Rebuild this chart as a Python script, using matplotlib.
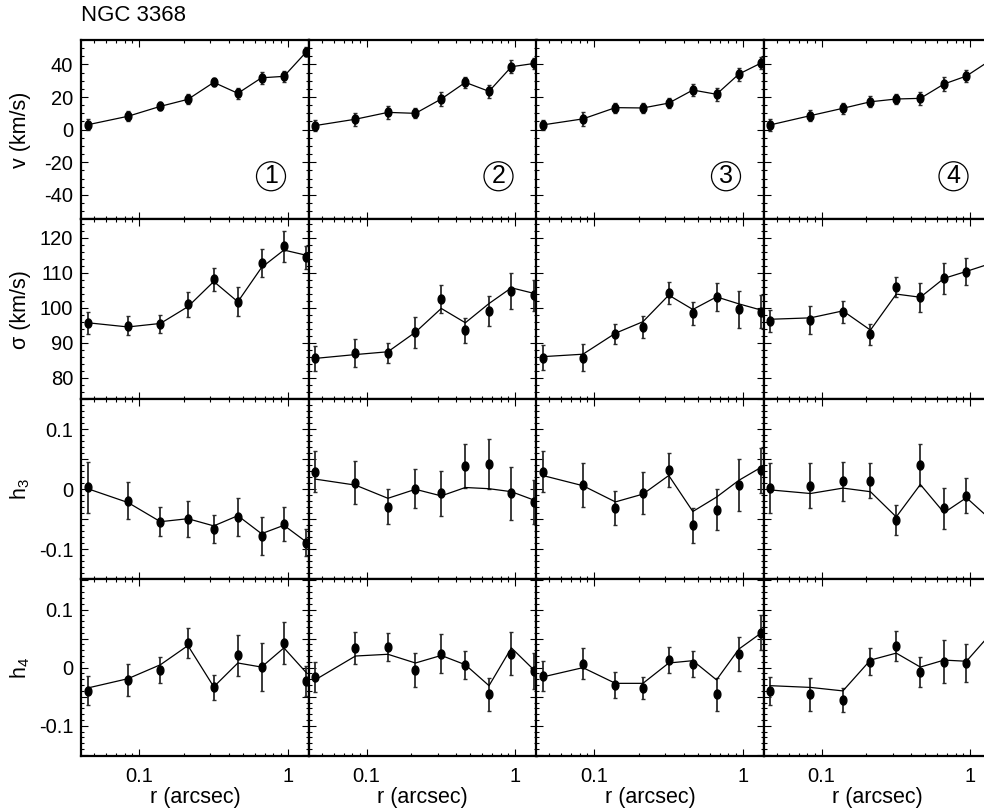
import numpy as np
import matplotlib
matplotlib.use("Agg")
import matplotlib.pyplot as plt
from matplotlib.path import Path
from matplotlib.ticker import MultipleLocator, FuncFormatter, LogLocator, FixedLocator, NullFormatter

plt.rcParams['font.family'] = ['Liberation Sans', 'DejaVu Sans']
plt.rcParams['axes.unicode_minus'] = False
plt.rcParams['mathtext.default'] = 'regular'

# ---------------- data ----------------
r = [0.045, 0.084, 0.139, 0.213, 0.318, 0.462, 0.667, 0.944, 1.34]

v_data = [
    [3.0, 8.2, 14.3, 18.6, 29.0, 22.3, 31.8, 32.7, 47.8],
    [2.5, 6.4, 10.6, 10.0, 18.8, 29.0, 23.5, 38.6, 40.6],
    [2.9, 6.6, 13.5, 13.3, 16.3, 24.3, 21.7, 34.1, 41.0],
    [2.9, 8.6, 13.1, 17.1, 18.8, 19.2, 28.0, 32.9, 42.0],
]
v_err = [
    [3.5, 3.2, 2.5, 3.0, 2.5, 3.2, 3.8, 3.5, 2.8],
    [3.6, 4.1, 3.8, 3.0, 4.2, 3.6, 4.1, 4.1, 3.4],
    [3.3, 4.4, 3.1, 3.1, 3.3, 3.4, 4.1, 4.0, 3.6],
    [3.6, 3.6, 3.5, 3.5, 2.8, 4.1, 4.1, 3.6, 3.5],
]
v_model = [
    [3.0, 8.2, 14.3, 18.6, 29.0, 22.3, 31.8, 32.7, 47.8],
    [2.5, 6.4, 10.6, 10.0, 18.8, 29.0, 23.5, 38.6, 40.6],
    [2.9, 6.6, 13.5, 13.3, 16.3, 24.3, 21.7, 34.1, 41.0],
    [2.9, 8.6, 13.1, 17.1, 18.8, 19.2, 28.0, 32.9, 42.0],
]

s_data = [
    [95.7, 94.8, 95.3, 101.0, 108.1, 101.7, 112.7, 117.6, 114.5],
    [85.5, 87.0, 87.1, 93.0, 102.4, 93.6, 99.1, 104.8, 103.5],
    [85.7, 85.7, 92.4, 94.4, 104.3, 98.4, 103.0, 99.5, 98.9],
    [96.2, 96.5, 98.7, 92.4, 106.0, 103.0, 108.4, 110.3, 112.0],
]
s_err = [
    [3.1, 2.7, 2.6, 3.6, 3.2, 4.1, 4.0, 4.4, 3.3],
    [3.6, 4.1, 2.8, 4.4, 4.0, 3.6, 4.2, 5.1, 4.4],
    [3.6, 3.9, 2.9, 3.1, 3.1, 3.2, 4.0, 5.3, 4.7],
    [3.2, 4.0, 3.2, 3.0, 2.8, 4.1, 4.5, 3.8, 4.0],
]
s_model = [
    [95.7, 94.5, 95.5, 100.3, 107.5, 101.7, 111.5, 116.5, 115.0],
    [85.5, 86.6, 87.4, 93.0, 99.8, 95.7, 101.2, 105.7, 104.1],
    [86.0, 86.7, 92.7, 96.0, 103.6, 99.5, 103.1, 101.1, 99.3],
    [96.7, 97.1, 99.1, 93.6, 103.9, 103.0, 108.4, 110.4, 112.5],
]

h3_data = [
    [0.003, -0.019, -0.054, -0.050, -0.066, -0.046, -0.078, -0.058, -0.089],
    [0.029, 0.011, -0.029, 0.001, -0.007, 0.039, 0.042, -0.007, -0.021],
    [0.029, 0.007, -0.031, -0.006, 0.032, -0.060, -0.034, 0.007, 0.032],
    [0.002, 0.006, 0.013, 0.014, -0.051, 0.041, -0.032, -0.011, -0.045],
]
h3_err = [
    [0.043, 0.031, 0.024, 0.030, 0.023, 0.031, 0.032, 0.028, 0.023],
    [0.034, 0.036, 0.029, 0.033, 0.038, 0.037, 0.042, 0.044, 0.037],
    [0.034, 0.036, 0.028, 0.035, 0.029, 0.029, 0.034, 0.043, 0.0375],
    [0.042, 0.0375, 0.032, 0.029, 0.025, 0.035, 0.034, 0.029, 0.030],
]
h3_model = [
    [0.001, -0.022, -0.054, -0.049, -0.061, -0.044, -0.074, -0.060, -0.088],
    [0.017, 0.007, -0.015, 0.000, -0.011, 0.003, 0.001, -0.004, -0.018],
    [0.023, 0.006, -0.021, -0.008, 0.023, -0.037, -0.013, 0.015, 0.037],
    [-0.001, -0.007, 0.002, -0.004, -0.046, 0.008, -0.039, -0.014, -0.048],
]

h4_data = [
    [-0.040, -0.021, -0.004, 0.043, -0.034, 0.021, 0.001, 0.042, -0.023],
    [-0.016, 0.034, 0.036, -0.004, 0.024, 0.004, -0.046, 0.024, -0.006],
    [-0.015, 0.007, -0.030, -0.035, 0.013, 0.006, -0.046, 0.023, 0.060],
    [-0.040, -0.046, -0.056, 0.010, 0.037, -0.008, 0.010, 0.008, 0.055],
]
h4_err = [
    [0.025, 0.027, 0.023, 0.026, 0.021, 0.036, 0.041, 0.036, 0.026],
    [0.026, 0.027, 0.024, 0.030, 0.034, 0.024, 0.029, 0.037, 0.031],
    [0.026, 0.026, 0.022, 0.019, 0.023, 0.022, 0.028, 0.029, 0.030],
    [0.024, 0.028, 0.021, 0.023, 0.026, 0.026, 0.037, 0.033, 0.030],
]
h4_model = [
    [-0.035, -0.019, 0.005, 0.038, -0.033, 0.008, 0.001, 0.034, -0.009],
    [-0.021, 0.020, 0.023, 0.008, 0.021, 0.005, -0.031, 0.034, -0.004],
    [-0.016, 0.000, -0.027, -0.027, 0.008, 0.012, -0.021, 0.032, 0.060],
    [-0.031, -0.034, -0.040, 0.013, 0.025, 0.001, 0.013, 0.011, 0.055],
]

panel_tags = ['1', '2', '3', '4']
row_labels = ['v (km/s)', 'σ (km/s)', 'h$_3$', 'h$_4$']
xtick_vals = [0.1, 1]
xtick_labels = ['0.1', '1']
x_label = 'r (arcsec)'
title = 'NGC 3368'

# ---------------- layout ----------------
W, H = 984, 809
fig = plt.figure(figsize=(W / 100, H / 100), dpi=100)

col_left = [81, 308.5, 536, 763.5]
col_w = 228
row_top = [40, 219.3, 399.3, 579.3]
row_bot = [219.3, 399.3, 579.3, 756]

ylims = [(-55, 55), (73.8, 125.3), (-0.15, 0.15), (-0.152, 0.152)]
xlim = (0.04056, 1.393)

theta = np.linspace(0, 2 * np.pi, 41)
ell = Path(np.column_stack([0.75 * np.cos(theta), np.sin(theta)]), closed=True)

rows = [(v_data, v_err, v_model), (s_data, s_err, s_model),
        (h3_data, h3_err, h3_model), (h4_data, h4_err, h4_model)]

TICK_FS = 14.5
LABEL_FS = 15.5


def hfmt(x, pos):
    if abs(x) < 1e-9:
        return '0'
    if abs(round(x / 0.1) * 0.1 - x) < 1e-6:
        return '%g' % round(x, 1)
    return ''


for ri, (dat, err, mod) in enumerate(rows):
    for ci in range(4):
        ax = fig.add_axes([col_left[ci] / W, 1 - row_bot[ri] / H,
                           col_w / W, (row_bot[ri] - row_top[ri]) / H])
        ax.set_xscale('log')
        ax.errorbar(r, dat[ci], yerr=err[ci], fmt='none', ecolor='#2a2a2a',
                    elinewidth=1.3, capsize=1.6, capthick=1.0, zorder=2)
        ax.plot(r, mod[ci], color='k', lw=0.9, zorder=3)
        ax.plot(r, dat[ci], ls='none', marker=ell, ms=6.5, color='k', zorder=4)
        ax.set_xlim(*xlim)
        ax.set_ylim(*ylims[ri])
        for s in ax.spines.values():
            s.set_linewidth(1.6)
        ax.tick_params(which='both', direction='in', top=True, right=True,
                       width=0.8, labelsize=TICK_FS)
        ax.tick_params(which='major', length=5)
        ax.tick_params(which='minor', length=2.5)
        ax.tick_params(axis='y', pad=5.5)
        ax.tick_params(axis='x', pad=8)
        ax.xaxis.set_major_locator(FixedLocator(xtick_vals))
        ax.xaxis.set_minor_locator(LogLocator(base=10, subs=np.arange(2, 10), numticks=20))
        ax.xaxis.set_minor_formatter(NullFormatter())
        if ri == 0:
            ax.yaxis.set_major_locator(MultipleLocator(20))
            ax.yaxis.set_minor_locator(MultipleLocator(5))
            ax.yaxis.set_major_formatter(FuncFormatter(lambda x, p: '%d' % round(x)))
        elif ri == 1:
            ax.yaxis.set_major_locator(MultipleLocator(10))
            ax.yaxis.set_minor_locator(MultipleLocator(2))
            ax.yaxis.set_major_formatter(FuncFormatter(lambda x, p: '%d' % round(x)))
        else:
            ax.yaxis.set_major_locator(MultipleLocator(0.05))
            ax.yaxis.set_minor_locator(MultipleLocator(0.01))
            ax.yaxis.set_major_formatter(FuncFormatter(hfmt))
        if ri == 3:
            ax.set_xticklabels(xtick_labels)
            ax.set_xlabel(x_label, fontsize=LABEL_FS, labelpad=1)
        else:
            ax.set_xticklabels([])
        if ci != 0:
            ax.set_yticklabels([])
        if ri == 0:
            ax.text(190 / col_w, 0.24, panel_tags[ci], transform=ax.transAxes,
                    ha='center', va='center', fontsize=18,
                    bbox=dict(boxstyle='circle,pad=0.1', fc='none', ec='k', lw=0.9))

for ri in range(4):
    yc = 1 - (row_top[ri] + row_bot[ri]) / 2 / H
    fig.text(20.5 / W, yc, row_labels[ri], rotation=90, ha='center', va='center',
             fontsize=LABEL_FS)

fig.text(81 / W, 1 - 21 / H, title, ha='left', va='baseline', fontsize=16)

fig.savefig('out.png', dpi=100)
